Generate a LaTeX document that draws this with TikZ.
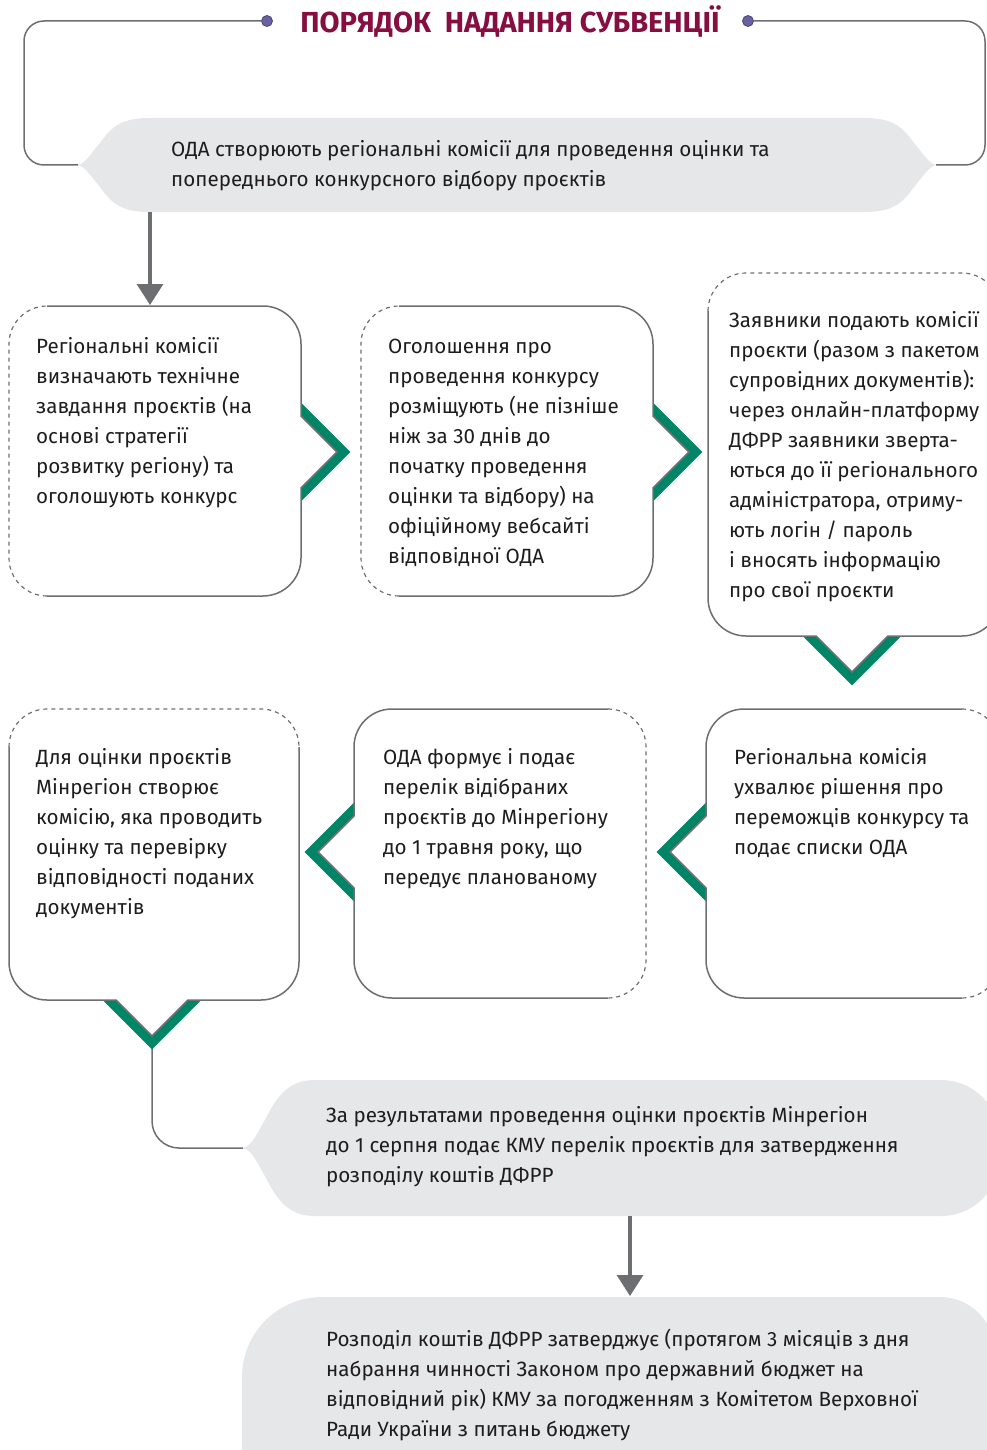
\documentclass[tikz,border=0pt]{standalone}
\usepackage{fontspec}
\setmainfont{Fira Sans}
\usetikzlibrary{arrows.meta}
\definecolor{lgray}{RGB}{109,110,113}
\definecolor{shapefill}{RGB}{230,231,232}
\definecolor{tgreen}{RGB}{0,133,102}
\definecolor{titlec}{RGB}{135,14,64}
\definecolor{dotc}{RGB}{104,98,163}
\definecolor{tcol}{RGB}{30,28,29}
\tikzset{
  txt/.style={anchor=north west, inner sep=0pt, align=left, text=tcol, font=\fontsize{20.6}{30}\selectfont},
  border/.style={draw=lgray, line width=1.5pt, line join=round},
  dborder/.style={draw=lgray, line width=1.2pt, dash pattern=on 4pt off 4pt},
  band/.style={draw=tgreen, line width=9pt, line join=miter, miter limit=10},
  arr/.style={draw=lgray, line width=3.2pt, -{Triangle[width=26pt,length=21pt]}},
  bracket/.style={draw=lgray, line width=1.5pt},
  dotn/.style={circle, fill=dotc, draw=dotc!70!black, line width=0.8pt, minimum size=11pt, inner sep=0pt},
  boxfill/.style={fill=white},
  grayshape/.style={fill=shapefill}
}
\begin{document}
\begin{tikzpicture}[x=1pt,y=-1pt]
\useasboundingbox (0,0) rectangle (987,1450);
\clip (0,0) rectangle (987,1450);

% ---------- title ----------
\node[anchor=base, inner sep=0pt, text=titlec, font=\bfseries\fontsize{29}{30}\selectfont] (title) at (510,32.5) {ПОРЯДОК\ \ НАДАННЯ СУБВЕНЦІЇ};
\node[dotn] (dotL) at (267,21) {};
\node[dotn] (dotR) at (748,21) {};

% ---------- top hexagon ----------
\fill[grayshape] (78,165) .. controls (86,163) and (92,152) .. (100,143) .. controls (112,126) and (122,118) .. (150,118) -- (864,118) .. controls (892,118) and (902,126) .. (914,143) .. controls (922,152) and (928,163) .. (936,165) .. controls (928,167) and (922,178) .. (914,187) .. controls (902,204) and (892,212) .. (864,212) -- (150,212) .. controls (122,212) and (112,204) .. (100,187) .. controls (92,178) and (86,167) .. (78,165) -- cycle;
\coordinate (hexL) at (78,165);
\coordinate (hexR) at (936,165);
\coordinate (hexB) at (150,212);
\node[txt] (t0) at (171,135) {\strut ОДА створюють регіональні комісії для проведення оцінки та\\попереднього конкурсного відбору проєктів};

% brackets
\draw[bracket] (dotL) -- (44,21) arc[start angle=270,end angle=180,radius=20] -- (24,145) arc[start angle=180,end angle=90,radius=20] -- (hexL);
\draw[bracket] (dotR) -- (965,21) arc[start angle=270,end angle=360,radius=20] -- (985,145) arc[start angle=0,end angle=90,radius=20] -- (hexR);

% ---------- bottom grey shapes ----------
\fill[grayshape] (243,1148) .. controls (252,1146) and (258,1132) .. (266,1118) .. controls (278,1094) and (290,1080) .. (315,1080) -- (941,1080) arc[start angle=270,end angle=360,radius=59] -- (1000,1157) arc[start angle=0,end angle=90,radius=59] -- (315,1216) .. controls (290,1216) and (278,1202) .. (266,1178) .. controls (258,1164) and (252,1150) .. (243,1148) -- cycle;
\coordinate (hex2L) at (243,1148);
\coordinate (hex2B) at (630,1216);
\fill[grayshape] (322,1297) -- (940,1297) arc[start angle=270,end angle=360,radius=55] -- (995,1520) -- (242,1520) -- (242,1377) arc[start angle=180,end angle=270,radius=80] -- cycle;
\coordinate (hex3T) at (630,1296);

% ---------- connectors ----------
\coordinate (boxAtop) at (150,305);
\draw[arr] (hexB) -- (boxAtop);
\draw[arr] (hex2B) -- (hex3T);
\coordinate (chD) at (152,1036);
\draw[bracket] (chD) -- (152,1121) arc[start angle=180,end angle=90,radius=27] -- (hex2L);

% ---------- green chevrons ----------
\draw[band] (295,403) -- (344,452) -- (295,501);
\draw[band] (647,403) -- (696,452) -- (647,501);
\draw[band] (803,630) -- (852,679) -- (901,630);
\draw[band] (103,994) -- (152,1043) -- (201,994);
\draw[band] (360,803) -- (311,852) -- (360,901);
\draw[band] (712,803) -- (663,852) -- (712,901);

% ---------- box A ----------
\fill[boxfill] (47,306) -- (263,306) arc[start angle=270,end angle=360,radius=38] -- (301,416) -- (337,452) -- (301,488) -- (301,558) arc[start angle=0,end angle=90,radius=38] -- (47,596) arc[start angle=90,end angle=180,radius=38] -- (9,344) arc[start angle=180,end angle=270,radius=38] -- cycle;
\draw[border] (47,306) -- (263,306) arc[start angle=270,end angle=360,radius=38] -- (301,416) -- (337,452) -- (301,488) -- (301,558) arc[start angle=0,end angle=90,radius=38] -- (47,596);
\draw[dborder] (47,596) arc[start angle=90,end angle=180,radius=38] -- (9,344) arc[start angle=180,end angle=270,radius=38];

% ---------- box B ----------
\fill[boxfill] (399,306) -- (615,306) arc[start angle=270,end angle=360,radius=38] -- (653,416) -- (689,452) -- (653,488) -- (653,558) arc[start angle=0,end angle=90,radius=38] -- (399,596) arc[start angle=90,end angle=180,radius=38] -- (361,344) arc[start angle=180,end angle=270,radius=38] -- cycle;
\draw[border] (399,306) -- (615,306) arc[start angle=270,end angle=360,radius=38] -- (653,416) -- (689,452) -- (653,488) -- (653,558) arc[start angle=0,end angle=90,radius=38] -- (399,596);
\draw[dborder] (399,596) arc[start angle=90,end angle=180,radius=38] -- (361,344) arc[start angle=180,end angle=270,radius=38];

% ---------- box C ----------
\fill[boxfill] (746,273) -- (962,273) arc[start angle=270,end angle=360,radius=38] -- (1000,598) arc[start angle=0,end angle=90,radius=38] -- (888,636) -- (852,672) -- (816,636) -- (746,636) arc[start angle=90,end angle=180,radius=38] -- (708,311) arc[start angle=180,end angle=270,radius=38] -- cycle;
\draw[border] (1000,311) -- (1000,598) arc[start angle=0,end angle=90,radius=38] -- (888,636) -- (852,672) -- (816,636) -- (746,636) arc[start angle=90,end angle=180,radius=38] -- (708,311);
\draw[dborder] (708,311) arc[start angle=180,end angle=270,radius=38] -- (962,273) arc[start angle=270,end angle=360,radius=38];

% ---------- box D ----------
\fill[boxfill] (47,709) -- (261,709) arc[start angle=270,end angle=360,radius=38] -- (299,962) arc[start angle=0,end angle=90,radius=38] -- (188,1000) -- (152,1036) -- (116,1000) -- (47,1000) arc[start angle=90,end angle=180,radius=38] -- (9,747) arc[start angle=180,end angle=270,radius=38] -- cycle;
\draw[border] (299,747) -- (299,962) arc[start angle=0,end angle=90,radius=38] -- (188,1000) -- (152,1036) -- (116,1000) -- (47,1000) arc[start angle=90,end angle=180,radius=38] -- (9,747);
\draw[dborder] (9,747) arc[start angle=180,end angle=270,radius=38] -- (261,709) arc[start angle=270,end angle=360,radius=38];

% ---------- box E ----------
\fill[boxfill] (392,709) -- (608,709) arc[start angle=270,end angle=360,radius=38] -- (646,960) arc[start angle=0,end angle=90,radius=38] -- (392,998) arc[start angle=90,end angle=180,radius=38] -- (354,888) -- (318,852) -- (354,816) -- (354,747) arc[start angle=180,end angle=270,radius=38] -- cycle;
\draw[border] (608,998) -- (392,998) arc[start angle=90,end angle=180,radius=38] -- (354,888) -- (318,852) -- (354,816) -- (354,747) arc[start angle=180,end angle=270,radius=38] -- (608,709);
\draw[dborder] (608,709) arc[start angle=270,end angle=360,radius=38] -- (646,960) arc[start angle=0,end angle=90,radius=38];

% ---------- box F ----------
\fill[boxfill] (744,709) -- (962,709) arc[start angle=270,end angle=360,radius=38] -- (1000,960) arc[start angle=0,end angle=90,radius=38] -- (744,998) arc[start angle=90,end angle=180,radius=38] -- (706,888) -- (670,852) -- (706,816) -- (706,747) arc[start angle=180,end angle=270,radius=38] -- cycle;
\draw[border] (962,998) -- (744,998) arc[start angle=90,end angle=180,radius=38] -- (706,888) -- (670,852) -- (706,816) -- (706,747) arc[start angle=180,end angle=270,radius=38] -- (962,709);
\draw[dborder] (962,709) arc[start angle=270,end angle=360,radius=38] -- (1000,960) arc[start angle=0,end angle=90,radius=38];

% ---------- texts ----------
\node[txt] (tA) at (36,332) {\strut Регіональні комісії\\визначають технічне\\завдання проєктів (на\\основі стратегії\\розвитку регіону) та\\оголошують конкурс};
\node[txt] (tB) at (388,332) {\strut Оголошення про\\проведення конкурсу\\розміщують (не пізніше\\ніж за 30 днів до\\початку проведення\\оцінки та відбору) на\\офіційному вебсайті\\відповідної ОДА};
\node[txt] (tC) at (729,306) {\strut Заявники подають комісії\\проєкти (разом з пакетом\\супровідних документів):\\через онлайн-платформу\\ДФРР заявники зверта-\\ються до її регіонального\\адміністратора, отриму-\\ють логін / пароль\\і вносять інформацію\\про свої проєкти};
\node[txt] (tD) at (36,743) {\strut Для оцінки проєктів\\Мінрегіон створює\\комісію, яка проводить\\оцінку та перевірку\\відповідності поданих\\документів};
\node[txt] (tE) at (383,743) {\strut ОДА формує і подає\\перелік відібраних\\проєктів до Мінрегіону\\до 1 травня року, що\\передує планованому};
\node[txt] (tF) at (734,743) {\strut Регіональна комісія\\ухвалює рішення про\\переможців конкурсу та\\подає списки ОДА};
\node[txt] (tG) at (326,1101) {\strut За результатами проведення оцінки проєктів Мінрегіон\\до 1 серпня подає КМУ перелік проєктів для затвердження\\розподілу коштів ДФРР};
\node[txt] (tH) at (326,1325) {\strut Розподіл коштів ДФРР затверджує (протягом 3 місяців з дня\\набрання чинності Законом про державний бюджет на\\відповідний рік) КМУ за погодженням з Комітетом Верховної\\Ради України з питань бюджету};
\end{tikzpicture}
\end{document}
